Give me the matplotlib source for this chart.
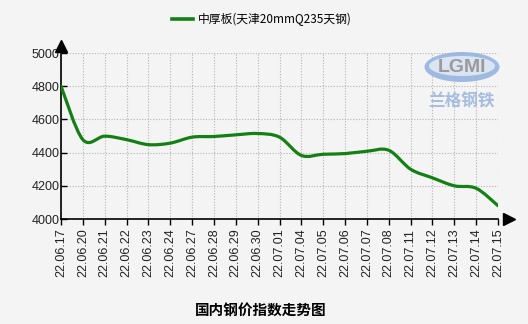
import matplotlib
matplotlib.use("Agg")
import matplotlib.pyplot as plt
import numpy as np
from matplotlib.path import Path
from matplotlib.patches import PathPatch, Ellipse

dates = ["22.06.17", "22.06.20", "22.06.21", "22.06.22", "22.06.23", "22.06.24",
         "22.06.27", "22.06.28", "22.06.29", "22.06.30", "22.07.01", "22.07.04",
         "22.07.05", "22.07.06", "22.07.07", "22.07.08", "22.07.11", "22.07.12",
         "22.07.13", "22.07.14", "22.07.15"]
values = [4800, 4478, 4499, 4478, 4448, 4457, 4493, 4497, 4507, 4515, 4493, 4383,
          4390, 4394, 4408, 4414, 4300, 4248, 4200, 4185, 4080]
yticks = [4000, 4200, 4400, 4600, 4800, 5000]
series_name = "中厚板(天津20mmQ235天钢)"
title = "国内钢价指数走势图"

bg = "#f4f4f4"
green = "#138013"

plt.rcParams['font.family'] = ['Liberation Sans', 'Noto Sans CJK SC', 'DejaVu Sans']

fig = plt.figure(figsize=(5.28, 3.24), dpi=100, facecolor=bg)
ax = fig.add_axes([61/528, 1 - 219/324, 437/528, 166/324])
ax.set_facecolor(bg)

x = np.arange(len(values))
y = np.array(values, dtype=float)

# smooth curve (Catmull-Rom as cubic Bezier path)
verts = [(x[0], y[0])]
codes = [Path.MOVETO]
n = len(x)
for i in range(n - 1):
    p0 = np.array([x[max(i - 1, 0)], y[max(i - 1, 0)]])
    p1 = np.array([x[i], y[i]])
    p2 = np.array([x[i + 1], y[i + 1]])
    p3 = np.array([x[min(i + 2, n - 1)], y[min(i + 2, n - 1)]])
    c1 = p1 + (p2 - p0) / 6
    c2 = p2 - (p3 - p1) / 6
    verts += [tuple(c1), tuple(c2), tuple(p2)]
    codes += [Path.CURVE4] * 3
patch = PathPatch(Path(verts, codes), facecolor="none", edgecolor=green, lw=2.3,
                  capstyle="round", joinstyle="round", zorder=5)
ax.add_patch(patch)

ax.set_xlim(0, len(values) - 1)
ax.set_ylim(4000, 5000)
ax.set_xticks(x)
ax.set_xticklabels(dates, rotation=90, fontsize=9, color="#222222")
ax.set_yticks(yticks)
ax.set_yticklabels([str(t) for t in yticks], fontsize=9, color="#222222")
ax.tick_params(axis="y", direction="in", length=4, width=1, pad=1)
ax.tick_params(axis="x", direction="out", length=4, width=1, pad=3)

ax.grid(True, color="#b4b4b4", linestyle=(0, (1, 1.5)), linewidth=0.8)
for s in ["top", "right"]:
    ax.spines[s].set_visible(False)
for s in ["left", "bottom"]:
    ax.spines[s].set_linewidth(1.2)
    ax.spines[s].set_color("black")

# axis arrows
ax.plot([0], [1.045], marker="^", markersize=8, color="black", transform=ax.transAxes,
        clip_on=False)
ax.plot([1.025], [0], marker=">", markersize=8, color="black", transform=ax.transAxes,
        clip_on=False)

# watermark logo
ell = Ellipse((462/528, 1 - 67/324), 75/528, 30/324, transform=fig.transFigure,
              facecolor="#8fb0de", edgecolor="none", alpha=0.85, zorder=1)
fig.add_artist(ell)
ell2 = Ellipse((462/528, 1 - 66/324), 66/528, 20/324, transform=fig.transFigure,
               facecolor="#dfe7f5", edgecolor="none", alpha=0.95, zorder=1)
fig.add_artist(ell2)
fig.text(462/528, 1 - 67/324, "LGMI", ha="center", va="center", fontsize=14,
         color="#9a9a9a", fontweight="bold", zorder=2)
fig.text(461/528, 1 - 101/324, "兰格钢铁", ha="center", va="center", fontsize=12,
         color="#a6bde0", family=["Noto Sans CJK SC"], zorder=2, fontweight="bold")

# legend
fig.add_artist(plt.Line2D([172/528, 193/528], [1 - 19/324, 1 - 19/324],
                          transform=fig.transFigure, color=green, lw=2.6))
fig.text(198/528, 1 - 19/324, series_name, ha="left", va="center", fontsize=8.5,
         family=["Liberation Sans Narrow", "Noto Sans CJK SC", "DejaVu Sans"])

fig.text(261/528, 1 - 310/324, title, ha="center", va="center", fontsize=10.5,
         fontweight="bold", family=["Noto Sans CJK SC"])

fig.savefig("out.png", dpi=100, facecolor=bg)
